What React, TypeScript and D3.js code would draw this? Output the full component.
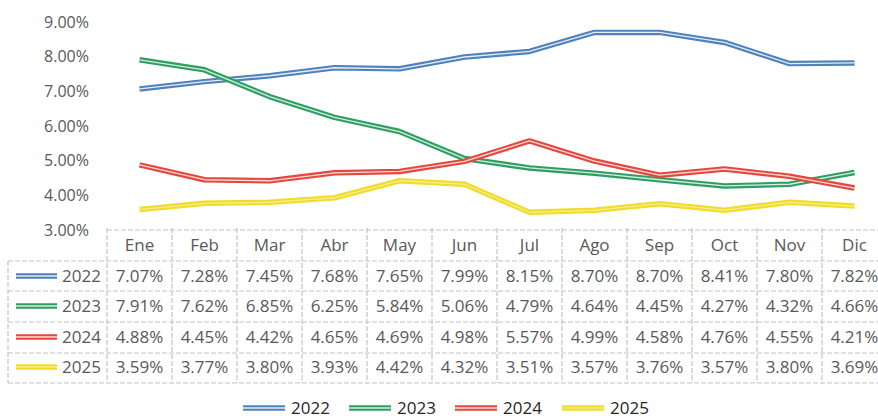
import React from "react";
import * as d3 from "d3";

const months = ["Ene", "Feb", "Mar", "Abr", "May", "Jun", "Jul", "Ago", "Sep", "Oct", "Nov", "Dic"];
const yTicks = [3, 4, 5, 6, 7, 8, 9];
const seriesNames = ["2022", "2023", "2024", "2025"];
const v2022 = [7.07, 7.28, 7.45, 7.68, 7.65, 7.99, 8.15, 8.7, 8.7, 8.41, 7.8, 7.82];
const v2023 = [7.91, 7.62, 6.85, 6.25, 5.84, 5.06, 4.79, 4.64, 4.45, 4.27, 4.32, 4.66];
const v2024 = [4.88, 4.45, 4.42, 4.65, 4.69, 4.98, 5.57, 4.99, 4.58, 4.76, 4.55, 4.21];
const v2025 = [3.59, 3.77, 3.8, 3.93, 4.42, 4.32, 3.51, 3.57, 3.76, 3.57, 3.8, 3.69];
const seriesValues = [v2022, v2023, v2024, v2025];
const colors = ["#4f81bd", "#2f9e63", "#e5473d", "#f0dc2a"];
const innerOpacity = [0.85, 0.8, 0.8, 0.45];

const FONT = "'Open Sans', sans-serif";
const GRAY = "#595959";

export default function App() {
  const x = d3.scaleBand<string>().domain(months).range([107, 887]);
  const y = d3.scaleLinear().domain([3, 9]).range([230, 22]);
  const line = d3
    .line<number>()
    .x((_, i) => (x(months[i]) as number) + x.bandwidth() / 2)
    .y((d) => y(d));

  const rowLines = [261, 291, 322, 353, 383];
  const rowCenters = [276, 306, 337, 367];
  const legendX = [243, 349, 455, 562];
  const legendY = 408;

  const DoubleLine = ({ d, si, w = 5.5 }: { d: string; si: number; w?: number }) => (
    <g>
      <path d={d} fill="none" stroke={colors[si]} strokeWidth={w} strokeLinejoin="round" />
      <path d={d} fill="none" stroke="#ffffff" strokeOpacity={innerOpacity[si]} strokeWidth={1.3} strokeLinejoin="round" />
    </g>
  );

  return (
    <svg width={878} height={419} style={{ position: "absolute", left: 0, top: 0, background: "#fff" }}>
      {/* y axis labels */}
      {yTicks.map((t) => (
        <text key={t} x={89} y={y(t)} dy="0.35em" textAnchor="end" fontFamily={FONT} fontSize={16} fill={GRAY}>
          {t.toFixed(2)}%
        </text>
      ))}
      {/* lines */}
      {seriesValues.map((vals, i) => (
        <DoubleLine key={i} d={line(vals) as string} si={i} />
      ))}
      {/* table grid */}
      <g stroke="#c4c4c4" strokeWidth={1.2} strokeDasharray="5,2">
        <line x1={107} x2={878} y1={230} y2={230} />
        {rowLines.map((ly) => (
          <line key={ly} x1={8} x2={878} y1={ly} y2={ly} />
        ))}
        {months.map((m) => (
          <line key={m} x1={x(m) as number} x2={x(m) as number} y1={228} y2={383} />
        ))}
        <line x1={8} x2={8} y1={261} y2={383} />
      </g>
      {/* header */}
      {months.map((m) => (
        <text key={m} x={(x(m) as number) + x.bandwidth() / 2} y={245} dy="0.35em" textAnchor="middle" fontFamily={FONT} fontSize={17} fill={GRAY}>
          {m}
        </text>
      ))}
      {/* rows */}
      {seriesValues.map((vals, si) => (
        <g key={si}>
          <DoubleLine d={`M16,${rowCenters[si]}H57`} si={si} />
          <text x={101} y={rowCenters[si]} dy="0.35em" textAnchor="end" fontFamily={FONT} fontSize={17} fill={GRAY}>
            {seriesNames[si]}
          </text>
          {vals.map((v, i) => (
            <text key={i} x={(x(months[i]) as number) + x.bandwidth() / 2} y={rowCenters[si]} dy="0.35em" textAnchor="middle" fontFamily={FONT} fontSize={17} fill={GRAY}>
              {v.toFixed(2)}%
            </text>
          ))}
        </g>
      ))}
      {/* legend */}
      {seriesNames.map((n, i) => (
        <g key={n}>
          <DoubleLine d={`M${legendX[i]},${legendY}H${legendX[i] + 42}`} si={i} />
          <text x={legendX[i] + 48} y={legendY} dy="0.35em" fontFamily={FONT} fontSize={17} fill="#262626">
            {n}
          </text>
        </g>
      ))}
    </svg>
  );
}
